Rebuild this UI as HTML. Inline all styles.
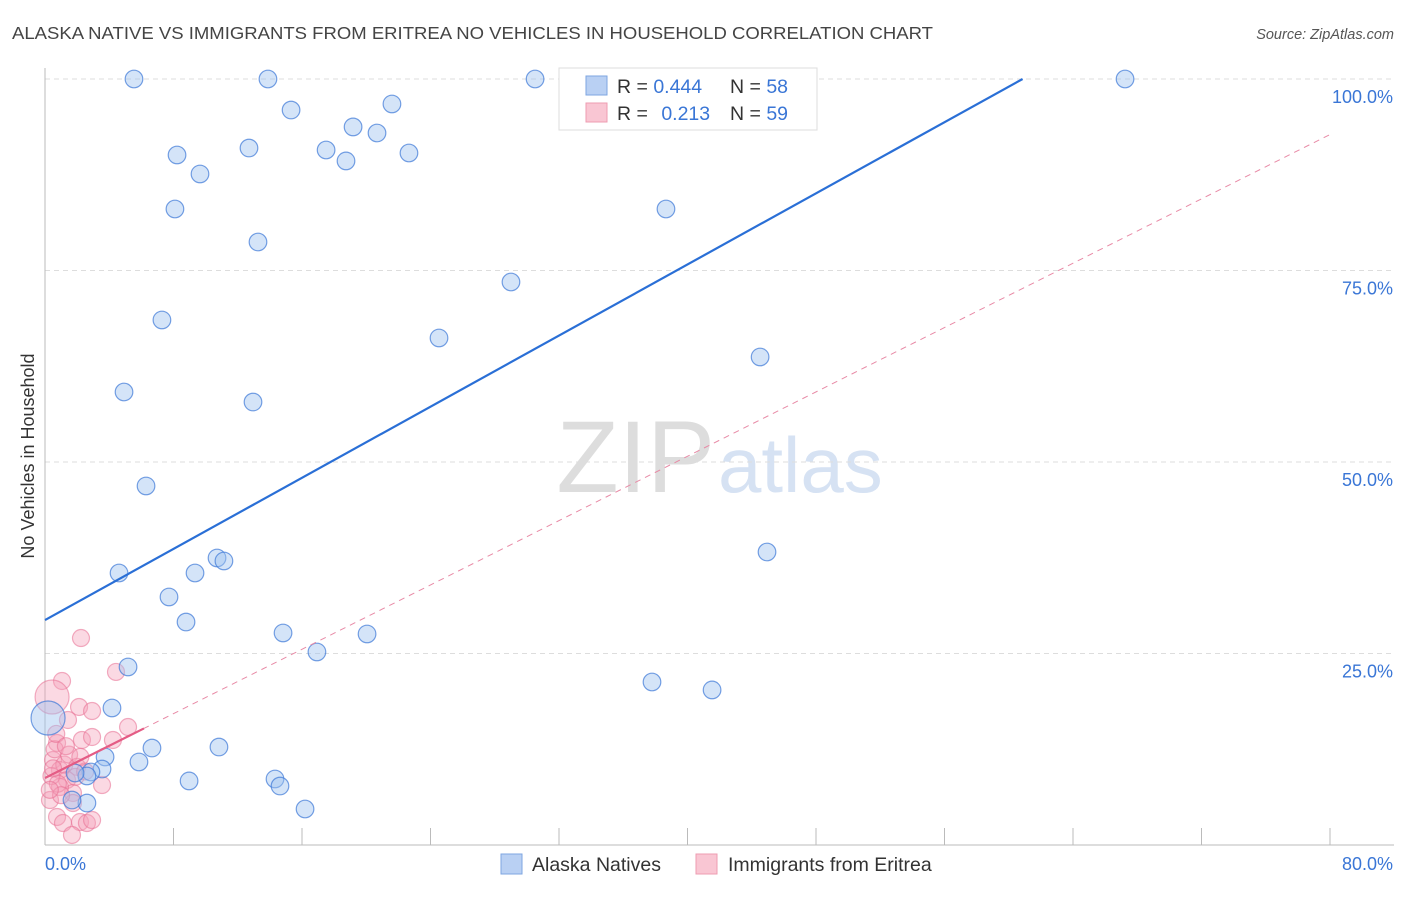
<!DOCTYPE html>
<html><head><meta charset="utf-8"><style>
body{margin:0;background:#fff;font-family:"Liberation Sans",sans-serif;}
svg text{font-family:"Liberation Sans",sans-serif;}
</style></head><body>
<svg id="chart" width="1406" height="892">
<text x="12" y="39" font-size="17.5" fill="#444" textLength="921" lengthAdjust="spacingAndGlyphs">ALASKA NATIVE VS IMMIGRANTS FROM ERITREA NO VEHICLES IN HOUSEHOLD CORRELATION CHART</text>
<text x="1394" y="39" font-size="14.5" fill="#555" font-style="italic" text-anchor="end">Source: ZipAtlas.com</text>
<text transform="translate(34,456) rotate(-90)" font-size="18" fill="#333" text-anchor="middle">No Vehicles in Household</text>
<text x="715" y="492" font-size="102" fill="#ddd" text-anchor="end" font-family="Liberation Serif">ZIP</text>
<text x="718" y="492" font-size="78" fill="#d6e2f3">atlas</text>
<g id="grid"></g><g id="axes"></g><g id="marks"></g><g id="lines"></g>
<g>
<rect x="559" y="68" width="258" height="62" fill="#fff" stroke="#ddd"/>
<rect x="586" y="76" width="21" height="19" fill="#b9d0f3" stroke="#7ea6e0"/>
<rect x="586" y="103" width="21" height="19" fill="#f9c6d3" stroke="#ee9cb2"/>
<text x="617" y="93" font-size="19.5" fill="#333">R = <tspan fill="#3a76d6">0.444</tspan></text>
<text x="730" y="93" font-size="19.5" fill="#333">N = <tspan fill="#3a76d6">58</tspan></text>
<text x="617" y="120" font-size="19.5" fill="#333">R = <tspan fill="#3a76d6" dx="8">0.213</tspan></text>
<text x="730" y="120" font-size="19.5" fill="#333">N = <tspan fill="#3a76d6">59</tspan></text>
</g>
<g>
<rect x="501" y="854" width="21" height="20" fill="#b9d0f3" stroke="#7ea6e0"/>
<text x="532" y="871" font-size="19.5" fill="#333">Alaska Natives</text>
<rect x="696" y="854" width="21" height="20" fill="#f9c6d3" stroke="#ee9cb2"/>
<text x="728" y="871" font-size="19.5" fill="#333">Immigrants from Eritrea</text>
</g>
</svg>
<script>
const yTicks=[25,50,75,100];
const yTickLabels=["25.0%","50.0%","75.0%","100.0%"];
const xTicks=[0,8,16,24,32,40,48,56,64,72,80];
const blueX=[5.54,13.88,30.51,32.94,67.24,15.32,21.6,19.18,20.67,8.22,12.70,17.50,18.74,22.66,9.65,8.09,38.66,13.26,29.01,7.28,24.53,44.52,4.92,12.95,6.29,44.95,10.71,11.14,4.61,9.34,7.72,8.78,14.82,20.05,16.93,5.17,37.79,41.53,4.17,6.66,10.83,5.85,3.74,3.55,2.86,2.61,8.97,14.32,14.63,16.19,2.61,1.87,1.68,0.19];
const blueY=[100,100,100,100,100,95.95,96.74,93.74,92.95,90.08,90.99,90.73,89.30,90.34,87.60,83.03,83.03,78.72,73.50,68.54,66.19,63.71,59.14,57.83,46.87,38.25,37.47,37.08,35.51,35.51,32.38,29.11,27.68,27.55,25.20,23.24,21.28,20.24,17.89,12.66,12.79,10.84,11.49,9.92,9.53,9.01,8.36,8.62,7.70,4.70,5.48,9.40,5.87,16.58];
const pinkX=[2.24,4.42,1.06,0.44,2.12,2.93,5.17,1.43,2.30,2.93,4.23,0.75,3.55,0.50,0.93,1.37,1.74,0.75,1.12,2.18,2.61,2.93,1.68,0.31,1.74,0.93,0.6,1.2,0.4,1.5,0.8,2.0,1.0,0.3,1.9,2.5,0.7,1.3,0.5,2.2];
const pinkY=[27.02,22.59,21.41,19.32,18.02,17.49,15.40,16.32,13.71,14.10,13.71,13.32,7.83,11.10,9.79,8.49,6.79,3.66,2.87,3.00,2.87,3.26,1.31,5.87,5.48,7.57,12.5,10.5,9.0,11.8,8.0,10.2,6.5,7.2,8.9,9.6,14.5,12.9,10.0,11.5];
const blueTrend=[29.37,1.1605];
const pinkTrend=[8.75,1.05];
const NS="http://www.w3.org/2000/svg";
const X=v=>45+v/80*1285, Y=v=>845-v/100*766;
function mk(t,a,p){const e=document.createElementNS(NS,t);for(const k in a)e.setAttribute(k,a[k]);document.getElementById(p).appendChild(e);return e;}
yTicks.forEach((t,i)=>{
 const l=mk('line',{x1:45,x2:1394,y1:Y(t),y2:Y(t),stroke:'#ddd','stroke-dasharray':'5,4'},'grid');
 
 
 const tx=mk('text',{x:1393,y:Y(t)+24,'font-size':18,fill:'#3a76d6','text-anchor':'end'},'axes');tx.textContent=yTickLabels[i];
 
 
});
let ax=mk('line',{x1:45,x2:45,y1:68,y2:845,stroke:'#bbb'},'axes');


ax=mk('line',{x1:45,x2:1394,y1:845,y2:845,stroke:'#bbb'},'axes');


xTicks.forEach(t=>{const l=mk('line',{x1:X(t),x2:X(t),y1:828,y2:845,stroke:'#bbb'},'axes');
 
 });
let t0=mk('text',{x:45,y:870,'font-size':18,fill:'#3a76d6'},'axes');t0.textContent='0.0%';


t0=mk('text',{x:1393,y:870,'font-size':18,fill:'#3a76d6','text-anchor':'end'},'axes');t0.textContent='80.0%';


pinkX.forEach((x,i)=>{const c=mk('circle',{cx:X(x),cy:Y(pinkY[i]),r:(i==3?17:8.5),fill:'rgba(244,160,185,0.4)',stroke:'rgba(232,110,145,0.55)','stroke-width':1.2},'marks');
 
 });
blueX.forEach((x,i)=>{const c=mk('circle',{cx:X(x),cy:Y(blueY[i]),r:(i==blueX.length-1?17:8.8),fill:'rgba(160,195,240,0.45)',stroke:'rgba(60,120,215,0.7)','stroke-width':1.2},'marks');
 
 });
const bx2=(100-blueTrend[0])/blueTrend[1];
let ln=mk('line',{x1:X(0),y1:Y(blueTrend[0]),x2:X(bx2),y2:Y(100),stroke:'#2a6fd6','stroke-width':2.2},'lines');


ln=mk('line',{x1:X(0),y1:Y(pinkTrend[0]),x2:X(80),y2:Y(pinkTrend[0]+80*pinkTrend[1]),stroke:'#e88aa6','stroke-width':1,'stroke-dasharray':'6,5'},'lines');


ln=mk('line',{x1:X(0),y1:Y(pinkTrend[0]),x2:X(6.16),y2:Y(pinkTrend[0]+6.16*pinkTrend[1]),stroke:'#e45c85','stroke-width':2.2},'lines');


</script>
</body></html>
